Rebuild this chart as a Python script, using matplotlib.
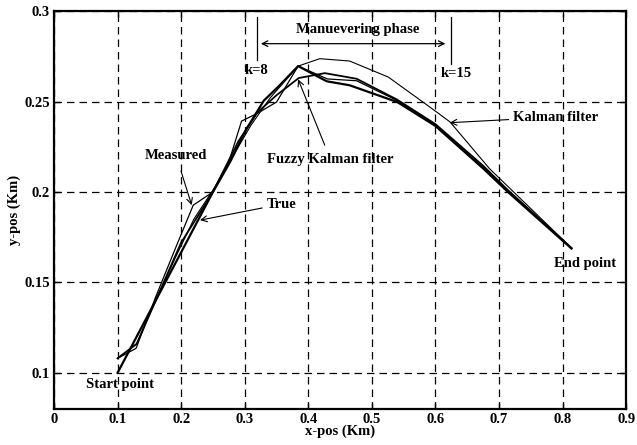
import matplotlib
matplotlib.use("Agg")
import matplotlib.pyplot as plt

plt.rcParams['font.family'] = ['Liberation Serif', 'DejaVu Serif']
plt.rcParams['font.weight'] = 'bold'

# Data (Km)
true_x = [0.10, 0.25, 0.277, 0.303, 0.33, 0.355, 0.384, 0.429, 0.465, 0.54, 0.60, 0.675, 0.714, 0.814]
true_y = [0.10, 0.20, 0.2166, 0.235, 0.2505, 0.259, 0.2696, 0.2612, 0.259, 0.2497, 0.2365, 0.213, 0.20, 0.1687]

meas_x = [0.10, 0.129, 0.16, 0.19, 0.219, 0.25, 0.275, 0.295, 0.32, 0.35, 0.384, 0.43, 0.476, 0.54, 0.60, 0.675, 0.714, 0.814]
meas_y = [0.108, 0.1135, 0.142, 0.168, 0.1927, 0.20, 0.2166, 0.2392, 0.2435, 0.2497, 0.2696, 0.2625, 0.2615, 0.2505, 0.237, 0.2135, 0.2005, 0.169]

kal_x = [0.10, 0.13, 0.16, 0.19, 0.22, 0.25, 0.28, 0.31, 0.34, 0.384, 0.418, 0.465, 0.526, 0.591, 0.623, 0.685, 0.814]
kal_y = [0.108, 0.116, 0.140, 0.163, 0.185, 0.201, 0.219, 0.237, 0.252, 0.2696, 0.2737, 0.2724, 0.2635, 0.247, 0.2387, 0.2129, 0.169]

fuz_x = [0.10, 0.13, 0.16, 0.20, 0.25, 0.29, 0.32, 0.35, 0.385, 0.426, 0.476, 0.54, 0.60, 0.675, 0.714, 0.814]
fuz_y = [0.108, 0.116, 0.140, 0.172, 0.20, 0.228, 0.244, 0.2535, 0.263, 0.2657, 0.2626, 0.251, 0.2375, 0.2145, 0.201, 0.169]

xticks = [0, 0.1, 0.2, 0.3, 0.4, 0.5, 0.6, 0.7, 0.8, 0.9]
xtick_labels = ['0', '0.1', '0.2', '0.3', '0.4', '0.5', '0.6', '0.7', '0.8', '0.9']
yticks = [0.1, 0.15, 0.2, 0.25, 0.3]
ytick_labels = ['0.1', '0.15', '0.2', '0.25', '0.3']

fig = plt.figure(figsize=(6.37, 4.45), dpi=100)
ax = fig.add_axes([0.0848, 0.081, 0.8982, 0.894])

ax.plot(kal_x, kal_y, color='black', lw=0.8)
ax.plot(meas_x, meas_y, color='black', lw=0.9)
ax.plot(fuz_x, fuz_y, color='black', lw=1.3)
ax.plot(true_x, true_y, color='black', lw=1.6)

ax.set_xlim(0, 0.9)
ax.set_ylim(0.08, 0.3)
ax.set_xticks(xticks)
ax.set_xticklabels(xtick_labels)
ax.set_yticks(yticks)
ax.set_yticklabels(ytick_labels)
ax.tick_params(direction='in', length=4, width=1, top=True, right=True, labelsize=10.5, pad=3)
for lbl in ax.get_xticklabels() + ax.get_yticklabels():
    lbl.set_fontweight('bold')
ax.grid(True, color='black', linestyle=(0, (6, 4)), lw=0.9)
for s in ax.spines.values():
    s.set_linewidth(1.6)

ax.set_xlabel('x-pos (Km)', fontsize=10.5, fontweight='bold', labelpad=-1)
ax.set_ylabel('y-pos (Km)', fontsize=10.5, fontweight='bold', labelpad=2)

fs = 10.5
# Maneuvering phase
ax.text(0.478, 0.2897, 'Manuevering phase', ha='center', va='center', fontsize=fs, fontweight='bold')
ax.annotate('', xy=(0.321, 0.282), xytext=(0.620, 0.282),
            arrowprops=dict(arrowstyle='<->', color='black', lw=0.9))
ax.plot([0.319, 0.319], [0.2728, 0.2966], color='black', lw=0.9)
ax.plot([0.625, 0.625], [0.2709, 0.2966], color='black', lw=0.9)
ax.text(0.30, 0.2672, 'k=8', ha='left', va='center', fontsize=fs, fontweight='bold')
ax.text(0.609, 0.2654, 'k=15', ha='left', va='center', fontsize=fs, fontweight='bold')

# Labels with arrows
ax.annotate('Measured', xy=(0.2165, 0.1927), xytext=(0.192, 0.2203),
            ha='center', va='center', fontsize=fs, fontweight='bold',
            arrowprops=dict(arrowstyle='->', color='black', lw=0.8, shrinkA=5, shrinkB=0))
ax.annotate('True', xy=(0.2296, 0.1844), xytext=(0.334, 0.1932),
            ha='left', va='center', fontsize=fs, fontweight='bold',
            arrowprops=dict(arrowstyle='->', color='black', lw=0.8, shrinkA=1, shrinkB=0))
ax.annotate('Fuzzy Kalman filter', xy=(0.384, 0.2623), xytext=(0.435, 0.2179),
            ha='center', va='center', fontsize=fs, fontweight='bold',
            arrowprops=dict(arrowstyle='->', color='black', lw=0.8, shrinkA=4, shrinkB=0))
ax.annotate('Kalman filter', xy=(0.6226, 0.2383), xytext=(0.7217, 0.2414),
            ha='left', va='center', fontsize=fs, fontweight='bold',
            arrowprops=dict(arrowstyle='->', color='black', lw=0.8, shrinkA=1, shrinkB=0))
ax.text(0.104, 0.0938, 'Start point', ha='center', va='center', fontsize=fs, fontweight='bold')
ax.text(0.835, 0.1604, 'End point', ha='center', va='center', fontsize=fs, fontweight='bold')

fig.savefig('out.png', dpi=100)
